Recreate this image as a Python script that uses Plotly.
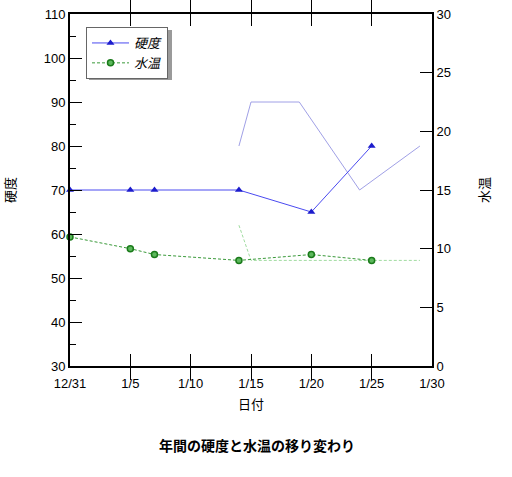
import plotly.graph_objects as go

# 硬度 / 水温 data
dates = ["2011-12-31", "2012-01-05", "2012-01-07", "2012-01-14", "2012-01-20", "2012-01-25"]
hardness = [70, 70, 70, 70, 65, 80]
water_temp = [11, 10, 9.5, 9, 9.5, 9]

# pale reference lines (no legend entry)
ref_dates = ["2012-01-14", "2012-01-15", "2012-01-19", "2012-01-24", "2012-01-29"]
ref_hardness = [80, 90, 90, 70, 80]
ref_temp_dates = ["2012-01-14", "2012-01-15", "2012-01-29"]
ref_temp = [12, 9, 9]

font_jp = "Noto Sans CJK JP"
font_num = "Liberation Sans"

fig = go.Figure()

fig.add_trace(go.Scatter(x=ref_dates, y=ref_hardness, mode="lines",
                         line=dict(color="#a0a0e6", width=1), showlegend=False,
                         hoverinfo="skip"))
fig.add_trace(go.Scatter(x=ref_temp_dates, y=ref_temp, mode="lines", yaxis="y2",
                         line=dict(color="#a0dca0", width=1, dash="3px,2px"),
                         showlegend=False, hoverinfo="skip"))

fig.add_trace(go.Scatter(x=dates, y=hardness, mode="lines+markers", name="硬度",
                         line=dict(color="#4a4af0", width=1),
                         marker=dict(symbol="triangle-up", size=7, color="#1c1ccc"),
                         cliponaxis=False))
fig.add_trace(go.Scatter(x=dates, y=water_temp, mode="lines+markers", name="水温",
                         yaxis="y2",
                         line=dict(color="#3a9a3a", width=1, dash="3px,2px"),
                         marker=dict(symbol="circle", size=6, color="#5cb85c",
                                     line=dict(color="#1a7a1a", width=1.5)),
                         cliponaxis=False))

# legend shadow
fig.add_shape(type="rect", xref="paper", yref="paper",
              x0=(89 - 70) / 362, x1=(172 - 70) / 362,
              y0=(366 - 80) / 352, y1=(366 - 30) / 352,
              fillcolor="#9a9a9a", line=dict(width=0), layer="below")

fig.add_annotation(text="<b>年間の硬度と水温の移り変わり</b>", xref="paper", yref="paper",
                   x=(256.5 - 70) / 362, y=(366 - 445) / 352, yanchor="middle",
                   showarrow=False,
                   font=dict(family=font_jp, size=14, color="black"))

fig.update_layout(
    width=512, height=477,
    margin=dict(l=70, r=80, t=14, b=111, autoexpand=False),
    paper_bgcolor="white", plot_bgcolor="white",
    font=dict(family=font_num, size=13, color="black"),
    legend=dict(x=(86 - 70) / 362, y=(366 - 27) / 352, xanchor="left", yanchor="top",
                bgcolor="white", bordercolor="#666666", borderwidth=1,
                font=dict(family=font_jp, size=13, style="italic"),
                tracegroupgap=0, itemwidth=37),
    xaxis=dict(type="date", range=["2011-12-31", "2012-01-30"],
               tick0="2011-12-31", dtick=5 * 86400000, tickformat="%-m/%-d",
               ticks="inside", ticklen=12, tickcolor="black", ticklabelstandoff=4,
               ticklabeloverflow="allow",
               showline=True, linecolor="black", linewidth=2, mirror="allticks",
               showgrid=False, zeroline=False, automargin=False,
               title=dict(text="日付", font=dict(family=font_jp, size=13), standoff=10)),
    yaxis=dict(range=[30, 110], dtick=10, ticks="inside", ticklen=12, tickcolor="black",
               minor=dict(dtick=5, ticks="inside", ticklen=6, tickcolor="black"),
               ticklabeloverflow="allow",
               showline=True, linecolor="black", linewidth=2,
               showgrid=False, zeroline=False, automargin=False,
               title=dict(text="硬度", font=dict(family=font_jp, size=13), standoff=28)),
    yaxis2=dict(range=[0, 30], dtick=5, overlaying="y", side="right",
                ticks="inside", ticklen=12, tickcolor="black",
                ticklabeloverflow="allow",
                showline=True, linecolor="black", linewidth=2,
                showgrid=False, zeroline=False, automargin=False,
                title=dict(text="水温", font=dict(family=font_jp, size=13), standoff=30)),
)

# drop the page's default 8px body margin so the figure sits at the corner
fig.write_html("out.html", config={"displayModeBar": False},
               post_script="document.body.style.margin = '0px';")
